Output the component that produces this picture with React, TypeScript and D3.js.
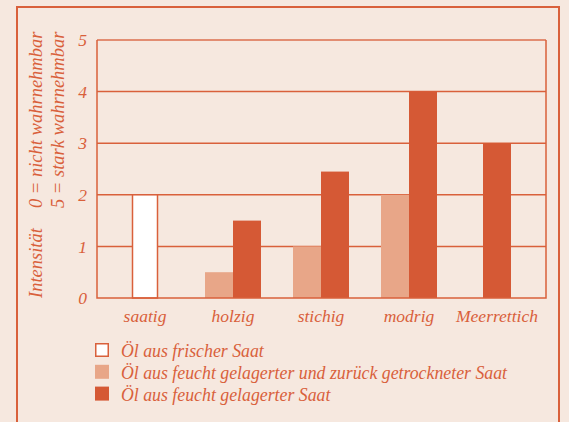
import React, { useRef, useEffect } from "react";
import * as d3 from "d3";

// categories and values (0 = nicht wahrnehmbar, 5 = stark wahrnehmbar)
const categories = ["saatig", "holzig", "stichig", "modrig", "Meerrettich"];
const seriesNames = [
  "Öl aus frischer Saat",
  "Öl aus feucht gelagerter und zurück getrockneter Saat",
  "Öl aus feucht gelagerter Saat",
];
const frischValues = [2, null, null, null, null];
const getrocknetValues = [null, 0.5, 1, 2, null];
const feuchtValues = [null, 1.5, 2.45, 4, 3];
const yTicks = [0, 1, 2, 3, 4, 5];

const BG = "#f6e8df";
const ORANGE = "#d9603b";
const DARK = "#d55935";
const LIGHT = "#e8a688";
const FONT = "'Liberation Serif', serif";

const App = () => {
  const svgRef = useRef(null);
  const width = 569;
  const height = 422;
  const margin = { top: 40, right: 23, bottom: 124, left: 97 };

  useEffect(() => {
    const svg = d3.select(svgRef.current);
    svg.selectAll("*").remove();

    const seriesValues = [frischValues, getrocknetValues, feuchtValues];
    const fills = ["#ffffff", LIGHT, DARK];

    const x = d3
      .scaleBand()
      .domain(categories)
      .range([margin.left + 4, width - margin.right - 5]);

    const y = d3
      .scaleLinear()
      .domain([0, 5])
      .range([height - margin.bottom, margin.top]);

    const barW = 28;

    // background and frame
    svg.append("rect").attr("width", width).attr("height", height).attr("fill", BG);
    svg
      .append("rect")
      .attr("x", 17)
      .attr("y", 7)
      .attr("width", 542)
      .attr("height", height + 10)
      .attr("fill", "none")
      .attr("stroke", ORANGE)
      .attr("stroke-width", 2);

    // grid lines
    svg
      .append("g")
      .selectAll("line")
      .data(yTicks.slice(1, -1))
      .join("line")
      .attr("x1", margin.left)
      .attr("x2", width - margin.right)
      .attr("y1", (d) => y(d))
      .attr("y2", (d) => y(d))
      .attr("stroke", ORANGE)
      .attr("stroke-width", 1.5);

    // bars, centred on their category
    const bars = [];
    categories.forEach((cat, i) => {
      const present = seriesValues
        .map((vals, s) => ({ s, v: vals[i] }))
        .filter((d) => d.v !== null);
      const cx = x(cat) + x.bandwidth() / 2;
      const start = cx - (present.length * barW) / 2;
      present.forEach((d, j) => bars.push({ cat, s: d.s, v: d.v, x0: start + j * barW }));
    });

    svg
      .append("g")
      .selectAll("rect")
      .data(bars)
      .join("rect")
      .attr("x", (d) => (d.s === 0 ? d.x0 + 1.5 : d.x0))
      .attr("y", (d) => y(d.v))
      .attr("width", (d) => (d.s === 0 ? barW - 3 : barW))
      .attr("height", (d) => y(0) - y(d.v))
      .attr("fill", (d) => fills[d.s])
      .attr("stroke", (d) => (d.s === 0 ? ORANGE : "none"))
      .attr("stroke-width", 1.5);

    // plot box
    svg
      .append("line")
      .attr("x1", margin.left)
      .attr("x2", width - margin.right)
      .attr("y1", y(5))
      .attr("y2", y(5))
      .attr("stroke", "#e28d72")
      .attr("stroke-width", 2);
    svg
      .append("path")
      .attr(
        "d",
        `M${margin.left},${y(5)}V${y(0)}H${width - margin.right}V${y(5)}`
      )
      .attr("fill", "none")
      .attr("stroke", ORANGE)
      .attr("stroke-width", 1.5);

    const text = (g) =>
      g
        .attr("fill", ORANGE)
        .attr("font-family", FONT)
        .attr("font-style", "italic");

    // y tick labels
    svg
      .append("g")
      .call(text)
      .attr("font-size", 17.5)
      .attr("text-anchor", "end")
      .selectAll("text")
      .data(yTicks)
      .join("text")
      .attr("x", 87)
      .attr("y", (d) => y(d))
      .attr("dy", "0.35em")
      .text((d) => d);

    // y axis title
    const title = svg.append("g").call(text).attr("font-size", 18.5);
    title
      .append("text")
      .attr("transform", `translate(42,${y(0)}) rotate(-90)`)
      .text("Intensität");
    title
      .append("text")
      .attr("transform", `translate(42,208) rotate(-90)`)
      .text("0 = nicht wahrnehmbar");
    title
      .append("text")
      .attr("transform", `translate(64,208) rotate(-90)`)
      .text("5 = stark wahrnehmbar");

    // category labels
    svg
      .append("g")
      .call(text)
      .attr("font-size", 17.5)
      .attr("text-anchor", "middle")
      .selectAll("text")
      .data(categories)
      .join("text")
      .attr("x", (d) => x(d) + x.bandwidth() / 2)
      .attr("y", 322)
      .text((d) => d);

    // legend
    const legend = svg.append("g").attr("transform", "translate(95,343)");
    legend
      .selectAll("rect")
      .data(seriesNames)
      .join("rect")
      .attr("x", (d, i) => (i === 0 ? 0.75 : 0))
      .attr("y", (d, i) => i * 21.8 + (i === 0 ? 0.75 : 0))
      .attr("width", (d, i) => (i === 0 ? 12.5 : 14))
      .attr("height", (d, i) => (i === 0 ? 12.5 : 14))
      .attr("fill", (d, i) => fills[i])
      .attr("stroke", (d, i) => (i === 0 ? ORANGE : "none"))
      .attr("stroke-width", 1.5);
    legend
      .append("g")
      .call(text)
      .attr("font-size", 17.8)
      .selectAll("text")
      .data(seriesNames)
      .join("text")
      .attr("x", 26)
      .attr("y", (d, i) => i * 21.8 + 14)
      .text((d) => d);
  }, []);

  return (
    <svg
      ref={svgRef}
      width={width}
      height={height}
      style={{ position: "fixed", left: 0, top: 0, display: "block" }}
    ></svg>
  );
};

export default App;
